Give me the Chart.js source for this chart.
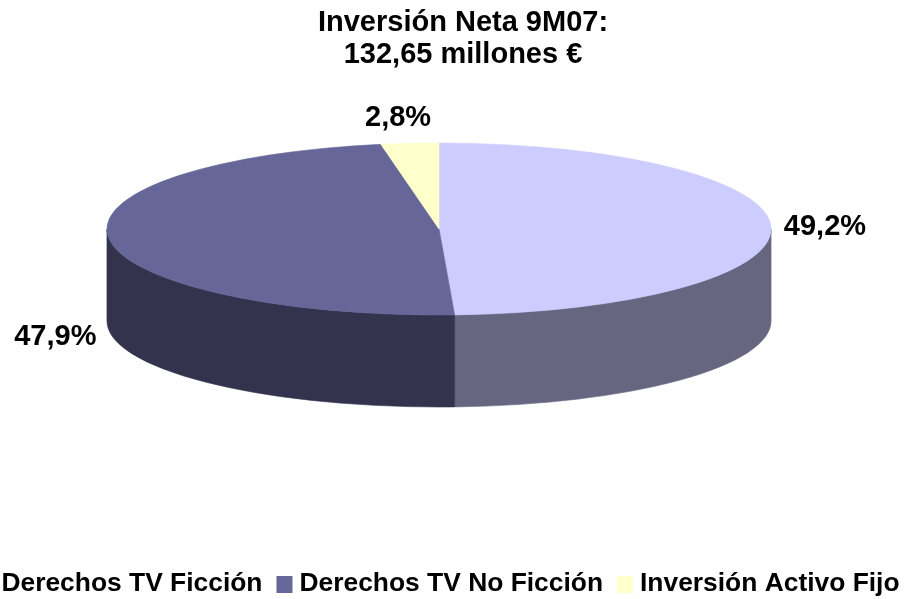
<!DOCTYPE html>
<html><head><meta charset="utf-8">
<script src="https://cdn.jsdelivr.net/npm/chart.js@4.4.1/dist/chart.umd.min.js"></script>
<style>html,body{margin:0;padding:0;background:#fff;overflow:hidden}#wrap{width:906px;height:599px;position:relative}</style>
</head><body><div id="wrap"><canvas id="c"></canvas></div>
<script>
const categories = ['Derechos TV Ficción', 'Derechos TV No Ficción', 'Inversión Activo Fijo'];
const values = [49.2, 47.9, 2.8];
const topColors = ['#CCCCFF', '#666699', '#FFFFCC'];
const sideColors = ['#666681', '#33334E', '#80806A'];
const titleLines = ['Inversión Neta 9M07:', '132,65 millones €'];

const FONT = '"Liberation Sans", Arial, sans-serif';
const ASPECT = 3.861;   // horizontal / vertical radius of the tilted pie
const DEPTH = 92;       // thickness of the pie

function fmt(v){ return v.toFixed(1).replace('.', ',') + '%'; }

const pie3d = {
  id: 'pie3d',
  beforeDatasetsDraw(chart){
    const ctx = chart.ctx;
    const arcs = chart.getDatasetMeta(0).data;
    ctx.save();
    // side walls (front half only)
    arcs.forEach((a, i) => {
      const cx = a.x, cy = a.y, ry = a.outerRadius, rx = ry * ASPECT;
      const s = Math.max(a.startAngle, 0), e = Math.min(a.endAngle, Math.PI);
      if (s >= e) return;
      ctx.beginPath();
      ctx.ellipse(cx, cy, rx, ry, 0, s, e, false);
      ctx.lineTo(cx + rx * Math.cos(e), cy + ry * Math.sin(e) + DEPTH);
      ctx.ellipse(cx, cy + DEPTH, rx, ry, 0, e, s, true);
      ctx.closePath();
      ctx.fillStyle = sideColors[i];
      ctx.strokeStyle = sideColors[i];
      ctx.lineWidth = 0.6;
      ctx.fill(); ctx.stroke();
    });
    // top faces
    arcs.forEach((a, i) => {
      const cx = a.x, cy = a.y, ry = a.outerRadius, rx = ry * ASPECT;
      ctx.beginPath();
      ctx.moveTo(cx, cy);
      ctx.ellipse(cx, cy, rx, ry, 0, a.startAngle, a.endAngle, false);
      ctx.closePath();
      ctx.fillStyle = topColors[i];
      ctx.strokeStyle = topColors[i];
      ctx.lineWidth = 0.6;
      ctx.fill(); ctx.stroke();
    });
    // value labels
    ctx.fillStyle = '#000';
    ctx.font = 'bold 29px ' + FONT;
    ctx.textAlign = 'center';
    ctx.textBaseline = 'middle';
    arcs.forEach((a, i) => {
      const cx = a.x, cy = a.y, ry = a.outerRadius, rx = ry * ASPECT;
      const m = (a.startAngle + a.endAngle) / 2;
      let x = cx + (rx + 54) * Math.cos(m);
      let y = cy + (ry + 26) * Math.sin(m);
      if (Math.sin(m) >= 0) y += DEPTH + 3;
      if (Math.sin(m) < -0.9) x -= 7;
      ctx.fillText(fmt(values[i]), x, y + 1);
    });
    ctx.restore();
    return false;
  },
  afterDraw(chart){
    const ctx = chart.ctx;
    const centerX = (chart.chartArea.left + chart.chartArea.right) / 2;
    ctx.save();
    ctx.fillStyle = '#000';
    ctx.textBaseline = 'middle';
    ctx.textAlign = 'center';
    ctx.font = 'bold 29px ' + FONT;
    ctx.fillText(titleLines[0], 463, 23);
    ctx.fillText(titleLines[1], 463, 55);
    // legend
    const box = 16, gapBT = 7, spacing = 14;
    ctx.font = 'bold 26.4px ' + FONT;
    ctx.textAlign = 'left';
    const widths = categories.map(c => ctx.measureText(c).width);
    const total = widths.reduce((s, w) => s + w + box + gapBT, 0) + spacing * (categories.length - 1);
    let x = centerX - total / 2;
    const ly = 584;
    categories.forEach((c, i) => {
      ctx.fillStyle = topColors[i];
      ctx.fillRect(x, ly - 8, box, box + 1);
      x += box + gapBT;
      ctx.fillStyle = '#000';
      ctx.fillText(c, x, ly);
      x += widths[i] + spacing;
    });
    ctx.restore();
  }
};

new Chart(document.getElementById('c'), {
  type: 'pie',
  data: {
    labels: categories,
    datasets: [{ data: values, backgroundColor: topColors, borderWidth: 0 }]
  },
  options: {
    responsive: true,
    maintainAspectRatio: false,
    animation: false,
    events: [],
    layout: { padding: { left: 105, right: 133, top: 143, bottom: 284 } },
    plugins: { legend: { display: false }, title: { display: false }, tooltip: { enabled: false } }
  },
  plugins: [pie3d]
});
</script></body></html>
